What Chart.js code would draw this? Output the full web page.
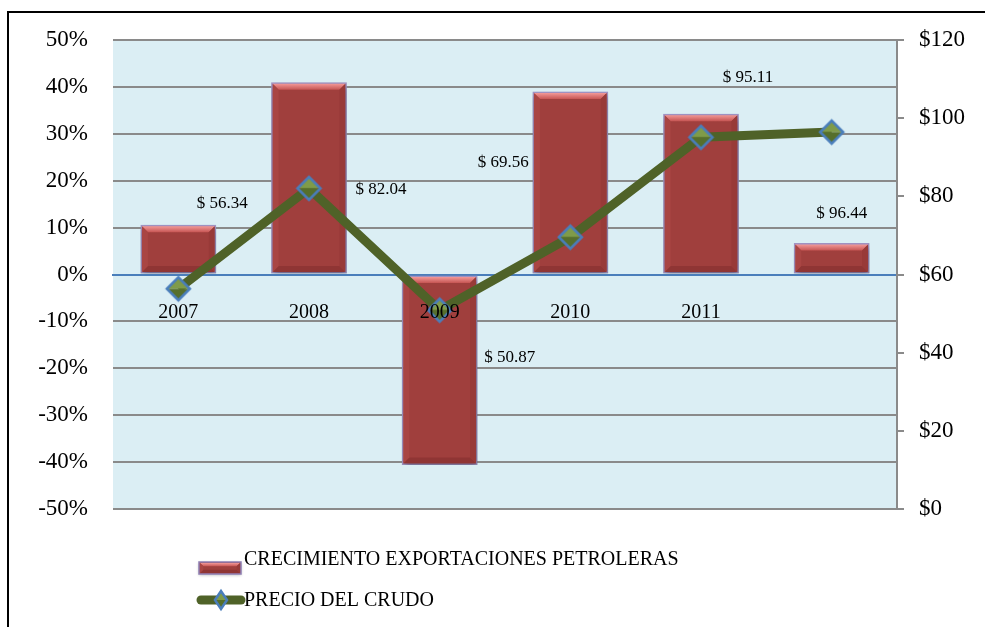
<!DOCTYPE html>
<html>
<head>
<meta charset="utf-8">
<script src="https://cdn.jsdelivr.net/npm/chart.js@4.4.1/dist/chart.umd.min.js"></script>
<style>
    html, body { margin: 0; padding: 0; background: #fff; }
    #wrap { width: 985px; height: 627px; }
</style>
</head>
<body>
<div id="wrap"><canvas id="oilChart" width="985" height="627"></canvas></div>
<script>
// Chart data
const years = ['2007', '2008', '2009', '2010', '2011', ''];
const exportGrowth = [10.6, 41.0, -40.6, 39.0, 34.3, 6.7];      // % growth
const crudePrice = [56.34, 82.04, 50.87, 69.56, 95.11, 96.44];   // USD
const growthTicks = [-50, -40, -30, -20, -10, 0, 10, 20, 30, 40, 50];
const priceTicks = [0, 20, 40, 60, 80, 100, 120];
const seriesNames = ['CRECIMIENTO EXPORTACIONES PETROLERAS', 'PRECIO DEL CRUDO'];

// where each price label sits relative to its point (dx, dy)
const priceLabelOffsets = [[44, -85], [72, 1], [70, 47], [-67, -75], [47, -60], [10, 81]];

const SERIF = '"Liberation Serif", "Times New Roman", serif';

/**
 * Diamond marker with a light upper half and a darker lower half
 */
function makeMarker(w, h) {
    const c = document.createElement('canvas');
    c.width = w + 6;
    c.height = h + 6;
    const g = c.getContext('2d');
    const cx = c.width / 2, cy = c.height / 2, rx = w / 2, ry = h / 2;
    g.fillStyle = '#7F9B49';
    g.beginPath();
    g.moveTo(cx - rx, cy); g.lineTo(cx, cy - ry); g.lineTo(cx + rx, cy);
    g.closePath(); g.fill();
    g.fillStyle = '#566F2C';
    g.beginPath();
    g.moveTo(cx - rx, cy); g.lineTo(cx, cy + ry); g.lineTo(cx + rx, cy);
    g.closePath(); g.fill();
    g.strokeStyle = '#4A7EBB';
    g.lineWidth = 2.5;
    g.beginPath();
    g.moveTo(cx - rx, cy); g.lineTo(cx, cy - ry); g.lineTo(cx + rx, cy); g.lineTo(cx, cy + ry);
    g.closePath(); g.stroke();
    return c;
}
const marker = makeMarker(23, 23);
const legendMarker = makeMarker(12, 18);

function poly(ctx, pts) {
    ctx.beginPath();
    ctx.moveTo(pts[0][0], pts[0][1]);
    for (let i = 1; i < pts.length; i++) ctx.lineTo(pts[i][0], pts[i][1]);
    ctx.closePath();
    ctx.fill();
}

// Bevelled edges on a bar rectangle
function drawBevel(ctx, left, top, right, bottom) {
    const b = Math.min(6, (bottom - top) / 3, (right - left) / 3);
    const g = ctx.createLinearGradient(0, top, 0, top + b);
    g.addColorStop(0, '#F29897');
    g.addColorStop(1, '#C65553');
    ctx.fillStyle = g;
    poly(ctx, [[left, top], [right, top], [right - b, top + b], [left + b, top + b]]);
    ctx.fillStyle = '#8F3534';
    poly(ctx, [[left, bottom], [right, bottom], [right - b, bottom - b], [left + b, bottom - b]]);
    ctx.fillStyle = '#A94543';
    poly(ctx, [[left, top], [left + b, top + b], [left + b, bottom - b], [left, bottom]]);
    ctx.fillStyle = '#983A38';
    poly(ctx, [[right, top], [right - b, top + b], [right - b, bottom - b], [right, bottom]]);
}

const chartDecor = {
    id: 'chartDecor',
    beforeDraw(chart) {
        const { ctx, chartArea: a } = chart;
        ctx.save();
        ctx.fillStyle = '#fff';
        ctx.fillRect(0, 0, chart.width, chart.height);
        ctx.fillStyle = '#DBEEF4';
        ctx.fillRect(a.left, a.top, a.width, a.height);
        // outer frame (top and left edges are visible)
        ctx.strokeStyle = '#000';
        ctx.lineWidth = 2;
        ctx.beginPath();
        ctx.moveTo(8, chart.height);
        ctx.lineTo(8, 12);
        ctx.lineTo(chart.width, 12);
        ctx.stroke();
        ctx.restore();
    },
    beforeDatasetDraw(chart, args) {
        if (args.meta.type !== 'bar') return;
        const ctx = chart.ctx;
        ctx.save();
        ctx.shadowColor = 'rgba(0, 0, 0, 0.35)';
        ctx.shadowBlur = 6;
        ctx.shadowOffsetX = 1;
        ctx.shadowOffsetY = 3;
    },
    afterDatasetDraw(chart, args) {
        if (args.meta.type !== 'bar') return;
        const ctx = chart.ctx;
        ctx.restore();
        ctx.save();
        args.meta.data.forEach(bar => {
            const p = bar.getProps(['x', 'y', 'base', 'width']);
            const top = Math.min(p.y, p.base) + 1.5;
            const bottom = Math.max(p.y, p.base) - 1.5;
            drawBevel(ctx, p.x - p.width / 2 + 1.5, top, p.x + p.width / 2 - 1.5, bottom);
        });
        ctx.restore();
    },
    afterDatasetsDraw(chart) {
        // price labels
        const ctx = chart.ctx;
        const meta = chart.getDatasetMeta(1);
        ctx.save();
        ctx.font = '17px ' + SERIF;
        ctx.fillStyle = '#000';
        ctx.textAlign = 'center';
        ctx.textBaseline = 'middle';
        meta.data.forEach((pt, i) => {
            const off = priceLabelOffsets[i];
            ctx.fillText('$ ' + crudePrice[i].toFixed(2), pt.x + off[0], pt.y + off[1]);
        });
        ctx.restore();
    },
    afterDraw(chart) {
        // legend, two rows, left aligned
        const ctx = chart.ctx;
        const lx = 199;
        ctx.save();
        // bar swatch
        ctx.shadowColor = 'rgba(0, 0, 0, 0.3)';
        ctx.shadowBlur = 3;
        ctx.shadowOffsetY = 1;
        ctx.fillStyle = '#A03F3D';
        ctx.fillRect(lx, 562, 42, 12);
        ctx.shadowColor = 'transparent';
        ctx.strokeStyle = '#8E7FB4';
        ctx.lineWidth = 1.5;
        ctx.strokeRect(lx, 562, 42, 12);
        drawBevel(ctx, lx + 1, 563, lx + 41, 573);
        // line swatch
        ctx.strokeStyle = '#4F6228';
        ctx.lineWidth = 9;
        ctx.lineCap = 'round';
        ctx.beginPath();
        ctx.moveTo(lx + 2, 600);
        ctx.lineTo(lx + 42, 600);
        ctx.stroke();
        ctx.drawImage(legendMarker, lx + 22 - legendMarker.width / 2, 600 - legendMarker.height / 2);
        // texts
        ctx.font = '20px ' + SERIF;
        ctx.fillStyle = '#000';
        ctx.textAlign = 'left';
        ctx.textBaseline = 'middle';
        ctx.fillText(seriesNames[0], 244, 560);
        ctx.fillText(seriesNames[1], 244, 601);
        ctx.restore();
    }
};

const ctx = document.getElementById('oilChart');

new Chart(ctx, {
    type: 'bar',
    data: {
        labels: years,
        datasets: [
            {
                type: 'bar',
                label: seriesNames[0],
                data: exportGrowth,
                yAxisID: 'y',
                order: 1,
                backgroundColor: '#A03F3D',
                borderColor: '#A395C6',
                borderWidth: 2,
                borderSkipped: false,
                categoryPercentage: 1,
                barPercentage: 0.58
            },
            {
                type: 'line',
                label: seriesNames[1],
                data: crudePrice,
                yAxisID: 'y1',
                order: 0,
                borderColor: '#4F6228',
                borderWidth: 9,
                tension: 0,
                fill: false,
                pointStyle: marker,
                pointRadius: 12,
                pointHoverRadius: 12
            }
        ]
    },
    options: {
        responsive: false,
        animation: false,
        layout: {
            padding: { top: 40, bottom: 118, left: 0, right: 0 }
        },
        plugins: {
            legend: { display: false },
            tooltip: { enabled: false }
        },
        scales: {
            x: {
                type: 'category',
                position: { y: 0 },
                offset: true,
                grid: {
                    display: true,
                    drawOnChartArea: false,
                    drawTicks: true,
                    tickLength: 23,
                    tickColor: 'rgba(0,0,0,0)'
                },
                border: { display: true, color: '#4A7EBB', width: 2 },
                ticks: {
                    z: 1,
                    color: '#000',
                    font: { family: SERIF, size: 20 },
                    maxRotation: 0,
                    autoSkip: false
                }
            },
            y: {
                position: 'left',
                min: growthTicks[0],
                max: growthTicks[growthTicks.length - 1],
                afterBuildTicks: scale => {
                    scale.ticks = growthTicks.map(v => ({ value: v }));
                },
                afterFit: scale => { scale.width = 113; },
                grid: {
                    color: '#8A8A8A',
                    lineWidth: 2,
                    drawTicks: false
                },
                border: { display: false },
                ticks: {
                    color: '#000',
                    padding: 25,
                    font: { family: SERIF, size: 23 },
                    callback: value => value + '%'
                }
            },
            y1: {
                position: 'right',
                min: priceTicks[0],
                max: priceTicks[priceTicks.length - 1],
                afterBuildTicks: scale => {
                    scale.ticks = priceTicks.map(v => ({ value: v }));
                },
                afterFit: scale => { scale.width = 88; },
                grid: {
                    drawOnChartArea: false,
                    drawTicks: true,
                    tickLength: 7,
                    color: '#8A8A8A',
                    lineWidth: 2
                },
                border: { display: true, color: '#8A8A8A', width: 2 },
                ticks: {
                    color: '#000',
                    padding: 15,
                    font: { family: SERIF, size: 23 },
                    callback: value => '$' + value
                }
            }
        }
    },
    plugins: [chartDecor]
});
</script>
</body>
</html>
